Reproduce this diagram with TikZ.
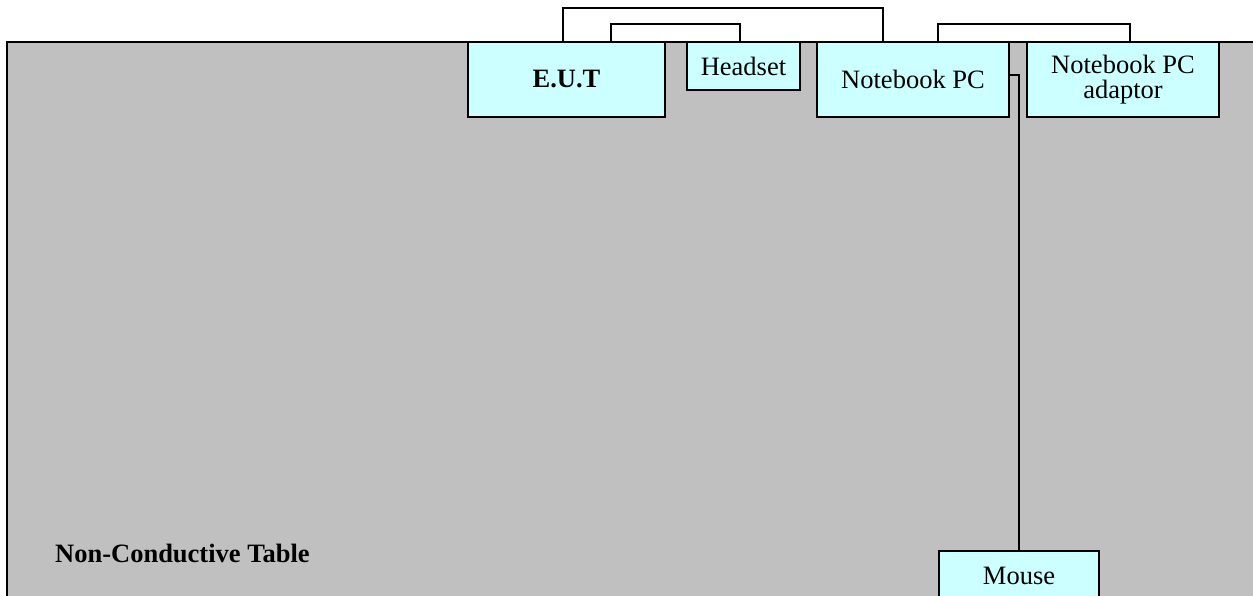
\documentclass[tikz,border=0pt]{standalone}
\usepackage{fontspec}
\setmainfont{Liberation Serif}
\definecolor{tablegray}{HTML}{C0C0C0}
\definecolor{boxcyan}{HTML}{CCFFFF}
\begin{document}
\begin{tikzpicture}[x=1pt,y=-1pt,
  dev/.style={draw=black,line width=1.8pt,fill=boxcyan,inner sep=0pt,align=center,
    font=\fontsize{26.5}{24.5}\selectfont},
  wire/.style={draw=black,line width=1.8pt}]
\useasboundingbox (0,0) rectangle (1253,596);
\clip (0,0) rectangle (1253,596);
\fill[white] (0,0) rectangle (1253,596);
\draw[fill=tablegray,line width=2pt] (7,42) rectangle (1270,720);
\node[anchor=west,inner sep=0pt,font=\fontsize{26.5}{30}\selectfont\bfseries] (tbl) at (55,553) {Non-Conductive Table};
\node[dev,minimum width=197pt,minimum height=75pt,font=\fontsize{26.5}{24.5}\selectfont\bfseries] (eut) at (566.5,79.5) {E.U.T};
\node[dev,minimum width=113pt,minimum height=48pt] (hs) at (743.5,66) {Headset};
\node[dev,minimum width=192pt,minimum height=75pt] (nb) at (913,79.5) {Notebook PC};
\node[dev,minimum width=192pt,minimum height=75pt] (ad) at (1123,79.5) {Notebook PC\\adaptor};
\node[dev,minimum width=160pt,minimum height=49pt] (ms) at (1019,575.5) {Mouse};
\draw[wire] ([xshift=96pt]eut.north west) -- ++(0,-33) -| ([xshift=67pt]nb.north west);
\draw[wire] ([xshift=144pt]eut.north west) -- ++(0,-17) -| ([xshift=54pt]hs.north west);
\draw[wire] ([xshift=122pt]nb.north west) -- ++(0,-17) -| ([xshift=104pt]ad.north west);
\draw[wire] ([yshift=4.5pt]nb.east) -| (ms.north);
\end{tikzpicture}
\end{document}
